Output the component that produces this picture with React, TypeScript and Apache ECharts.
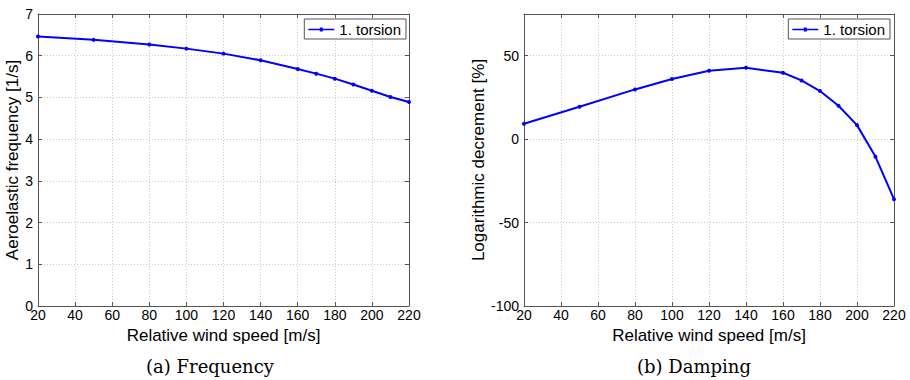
import React, { useEffect, useRef } from "react";
import * as echarts from "echarts";

const speeds = [20, 50, 80, 100, 120, 140, 160, 170, 180, 190, 200, 210, 220];
const frequency = [6.46, 6.38, 6.27, 6.17, 6.05, 5.89, 5.68, 5.57, 5.45, 5.31, 5.16, 5.01, 4.89];
const damping = [9.2, 19.4, 29.8, 36.0, 41.0, 42.8, 39.8, 35.2, 28.8, 20.0, 8.4, -10.6, -36.0];
const seriesName = "1. torsion";
const xTitle = "Relative wind speed [m/s]";
const yTitles = ["Aeroelastic frequency [1/s]", "Logarithmic decrement [%]"];
const captions = ["(a) Frequency", "(b) Damping"];

const SANS = "Liberation Sans";
const AXIS_COLOR = "#555555";
const GRID_LINE = { show: true, lineStyle: { color: "#c8c8c8", type: [1, 2], width: 1 } };
const TICK = { show: true, inside: true, length: 4, lineStyle: { color: AXIS_COLOR } };

export default function App() {
  const ref = useRef<HTMLDivElement>(null);
  useEffect(() => {
    if (!ref.current) return;
    const chart = echarts.init(ref.current, undefined, { renderer: "svg" });
    const grids = [
      { left: 38, top: 14, width: 371, height: 292 },
      { left: 524, top: 14, width: 370, height: 292 },
    ];
    const yRanges = [
      { min: 0, max: 7, interval: 1 },
      { min: -100, max: 75, interval: 50 },
    ];
    const xAxis: any[] = [];
    [0, 1].forEach((i) => {
      xAxis.push({
        type: "value",
        gridIndex: i,
        min: 20,
        max: 220,
        interval: 20,
        name: xTitle,
        nameLocation: "middle",
        nameGap: 18,
        nameTextStyle: { fontFamily: SANS, fontSize: 17, color: "#000" },
        axisLine: { show: true, onZero: false, lineStyle: { color: AXIS_COLOR, width: 1 } },
        axisTick: TICK,
        axisLabel: { fontFamily: SANS, fontSize: 14, color: "#000", margin: 2 },
        splitLine: GRID_LINE,
      });
    });
    [0, 1].forEach((i) => {
      xAxis.push({
        type: "value",
        gridIndex: i,
        position: "top",
        min: 20,
        max: 220,
        interval: 20,
        axisLine: { show: true, onZero: false, lineStyle: { color: AXIS_COLOR, width: 1 } },
        axisTick: TICK,
        axisLabel: { show: false },
        splitLine: { show: false },
      });
    });
    const yAxis: any[] = [];
    [0, 1].forEach((i) => {
      yAxis.push({
        type: "value",
        gridIndex: i,
        ...yRanges[i],
        name: yTitles[i],
        nameLocation: "middle",
        nameGap: i === 0 ? 14 : 37,
        nameTextStyle: { fontFamily: SANS, fontSize: 17, color: "#000" },
        axisLine: { show: true, onZero: false, lineStyle: { color: AXIS_COLOR } },
        axisTick: TICK,
        axisLabel: { fontFamily: SANS, fontSize: 14, color: "#000", margin: 5, showMaxLabel: i === 0 },
        splitLine: GRID_LINE,
      });
    });
    [0, 1].forEach((i) => {
      yAxis.push({
        type: "value",
        gridIndex: i,
        position: "right",
        ...yRanges[i],
        axisLine: { show: true, onZero: false, lineStyle: { color: AXIS_COLOR } },
        axisTick: TICK,
        axisLabel: { show: false },
        splitLine: { show: false },
      });
    });
    const mk = (i: number, vals: number[]) => ({
      type: "line",
      name: seriesName,
      xAxisIndex: i,
      yAxisIndex: i,
      data: speeds.map((s, k) => [s, vals[k]]),
      symbol: "circle",
      symbolSize: 4,
      showSymbol: true,
      color: "#0000ff",
      lineStyle: { color: "#0000ff", width: 2 },
      itemStyle: { color: "#0000ff" },
    });
    const legendBase = {
      data: [{ name: seriesName, icon: "path://M0 1.2H26V2.8H0Z M11.5 0H14.5V4H11.5Z" }],
      orient: "vertical",
      backgroundColor: "#fff",
      borderColor: "#555",
      borderWidth: 1,
      borderRadius: 0,
      padding: [3, 5, 2, 4],
      itemWidth: 26,
      itemHeight: 4,
      itemGap: 4,
      textStyle: { fontFamily: SANS, fontSize: 15, color: "#000" },
      selectedMode: false,
    };
    chart.setOption({
      animation: false,
      backgroundColor: "#fff",
      grid: grids.map((g) => ({ ...g, show: false })),
      xAxis,
      yAxis,
      legend: [
        { ...legendBase, right: 910 - 406, top: 19 },
        { ...legendBase, right: 910 - 890, top: 19 },
      ],
      series: [mk(0, frequency), mk(1, damping)],
      graphic: [
        {
          type: "text",
          x: 210,
          y: 366,
          style: { text: captions[0], fontFamily: "DejaVu Serif", fontSize: 18, fill: "#000", align: "center", verticalAlign: "middle" },
        },
        {
          type: "text",
          x: 694,
          y: 366,
          style: { text: captions[1], fontFamily: "DejaVu Serif", fontSize: 18, fill: "#000", align: "center", verticalAlign: "middle" },
        },
      ],
    });
    return () => chart.dispose();
  }, []);
  return <div ref={ref} style={{ width: 910, height: 380, position: "absolute", left: 0, top: 0 }} />;
}
